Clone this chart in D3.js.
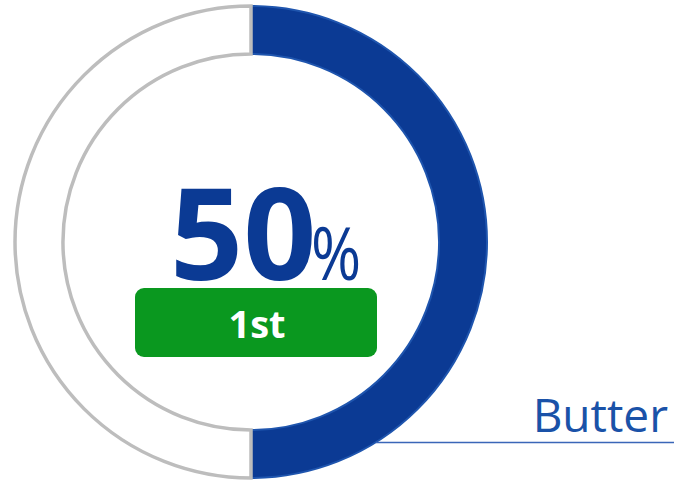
<!DOCTYPE html>
<html>
<head>
<meta charset="utf-8">
<script src="https://cdn.jsdelivr.net/npm/d3@7"></script>
<style>
  html, body { margin: 0; padding: 0; background: #fff; }
  svg { display: block; }
</style>
</head>
<body>
<svg id="chart" width="674" height="480"></svg>
<script>
const categories = ["Butter", "Rest"];
const values = [50, 50];
const rankLabel = "1st";
const valueLabel = "50";
const unitLabel = "%";

const svg = d3.select("#chart");
const cx = 251, cy = 242, outerR = 236, innerR = 188;

const g = svg.append("g").attr("transform", `translate(${cx},${cy})`);
const pie = d3.pie().sort(null).value(d => d);
const arcs = pie(values);
const arc = d3.arc().innerRadius(innerR).outerRadius(outerR);

// leader line (behind arc)
svg.append("line")
  .attr("x1", cx + 125).attr("x2", 674)
  .attr("y1", 442.5).attr("y2", 442.5)
  .attr("stroke", "#3a66b8").attr("stroke-width", 1.6);

g.selectAll("path.slice").data(arcs).enter().append("path")
  .attr("class", "slice")
  .attr("d", arc)
  .attr("fill", (d, i) => i === 0 ? "#0b3a94" : "#ffffff")
  .attr("stroke", (d, i) => i === 0 ? "#1f55ae" : "#bdbdbd")
  .attr("stroke-width", (d, i) => i === 0 ? 2 : 3.5)
  .attr("stroke-linejoin", "miter");

// center value
svg.append("text")
  .attr("x", 170).attr("y", 280)
  .attr("font-family", "'Open Sans', sans-serif")
  .attr("font-size", 128).attr("font-weight", 700)
  .attr("fill", "#0b3a94")
  .text(valueLabel);
svg.append("text")
  .attr("transform", "translate(311,280) scale(0.82,1)")
  .attr("font-family", "'Open Sans', sans-serif")
  .attr("font-size", 74).attr("font-weight", 400)
  .attr("fill", "#0b3a94")
  .text(unitLabel);

// rank badge
svg.append("rect")
  .attr("x", 135).attr("y", 288).attr("width", 242).attr("height", 69)
  .attr("rx", 9).attr("ry", 9)
  .attr("fill", "#0a981f");
svg.append("text")
  .attr("x", 257).attr("y", 338)
  .attr("text-anchor", "middle")
  .attr("font-family", "'Open Sans', sans-serif")
  .attr("font-weight", 700).attr("font-size", 38)
  .attr("fill", "#ffffff")
  .text(rankLabel);

// category label
svg.append("text")
  .attr("x", 668).attr("y", 432)
  .attr("text-anchor", "end")
  .attr("font-family", "'Open Sans', sans-serif")
  .attr("font-size", 46)
  .attr("fill", "#1a52a8")
  .text(categories[0]);
</script>
</body>
</html>
